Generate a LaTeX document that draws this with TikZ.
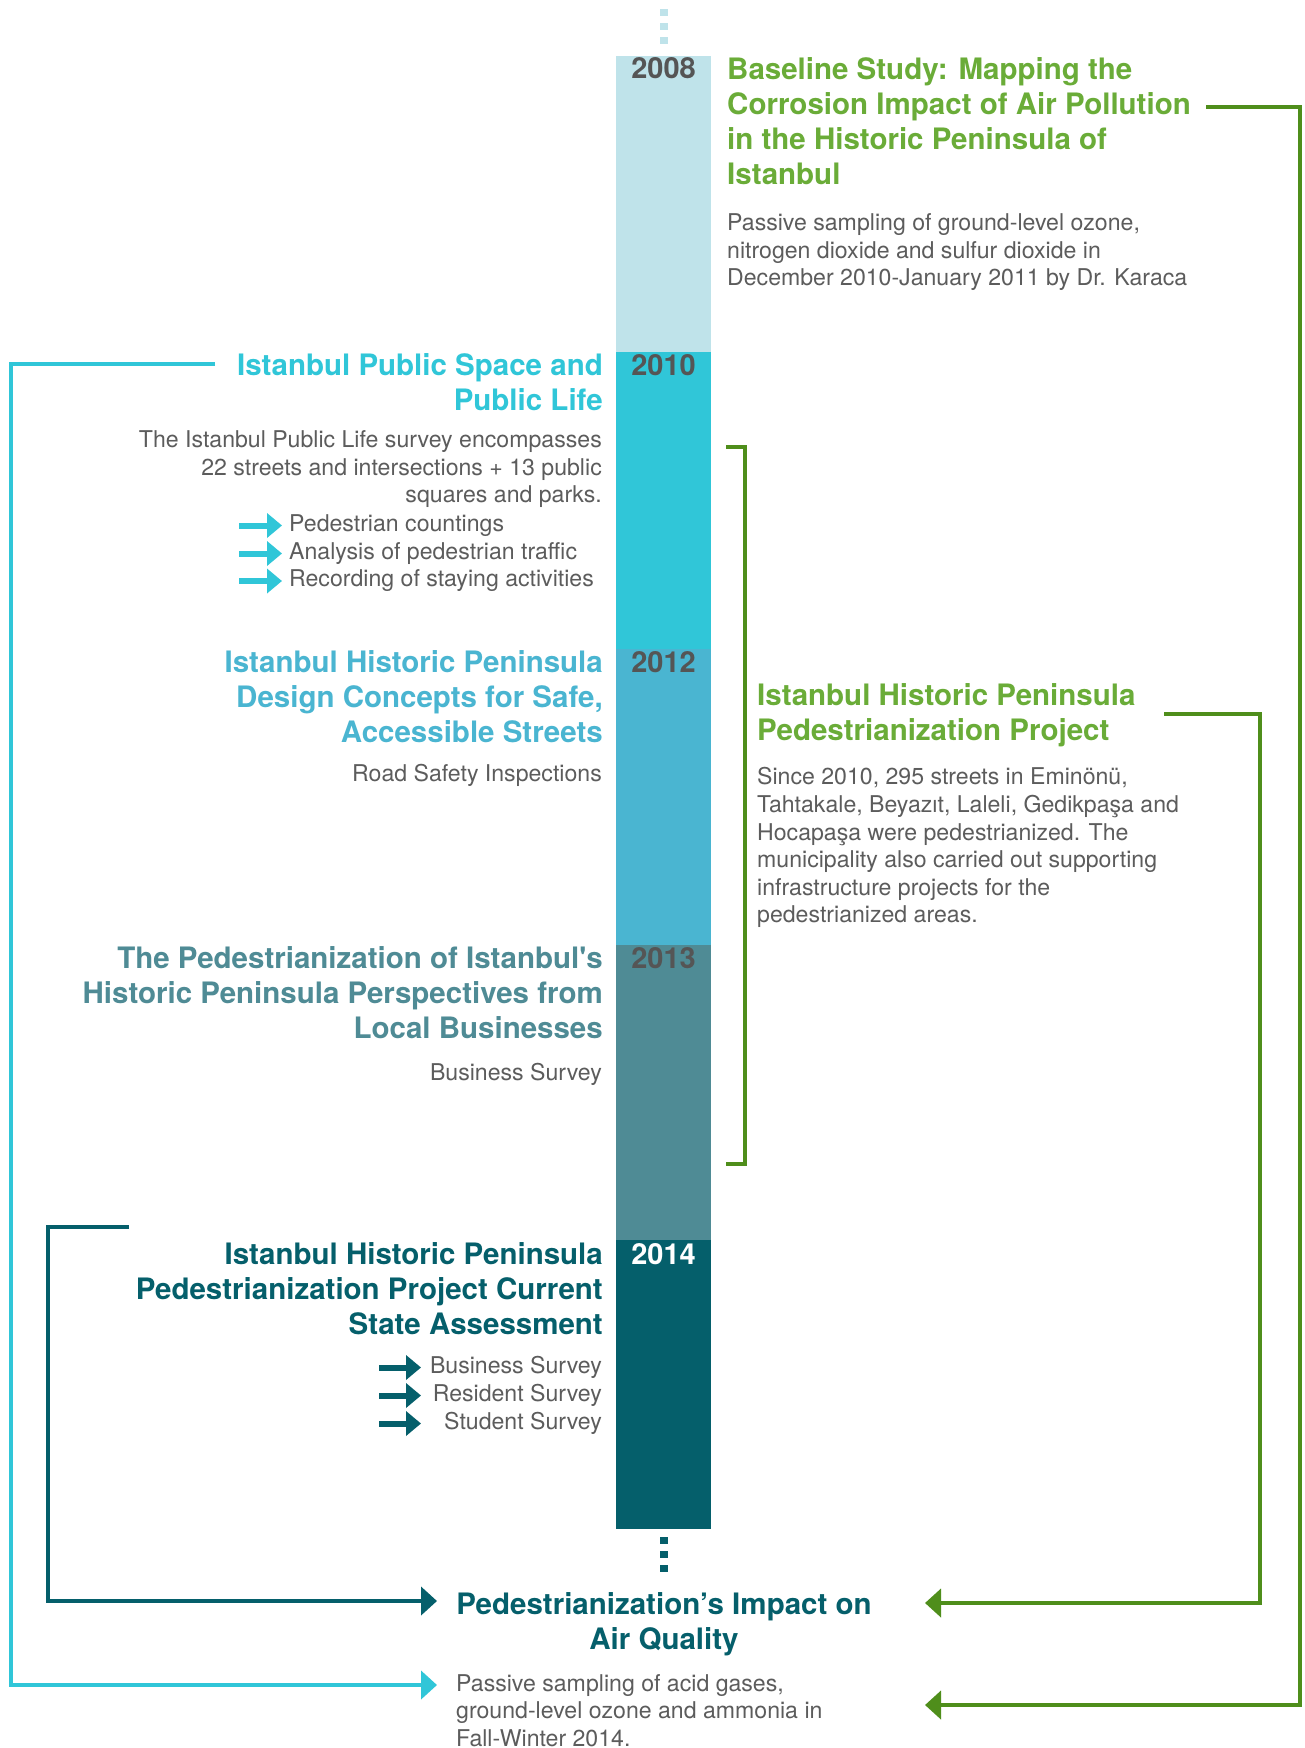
\documentclass[tikz,border=0pt]{standalone}
\usepackage{fontspec}
\setmainfont{TeX Gyre Heros}
\usetikzlibrary{arrows.meta}
\definecolor{cA}{HTML}{BFE3EA}
\definecolor{cB}{HTML}{30C6D8}
\definecolor{cC}{HTML}{4AB5D1}
\definecolor{cD}{HTML}{4F8B95}
\definecolor{cE}{HTML}{055F6B}
\definecolor{ygray}{HTML}{555555}
\definecolor{txtgray}{HTML}{5C5C5C}
\definecolor{gtext}{HTML}{6AAC38}
\definecolor{gline}{HTML}{4F8E1B}
\begin{document}
\begin{tikzpicture}[x=1pt,y=-1pt,
  title/.style={font=\fontsize{29.5}{35}\selectfont\bfseries, inner sep=0pt},
  desc/.style={font=\fontsize{23.1}{27.6}\selectfont, text=txtgray, inner sep=0pt},
  year/.style={font=\fontsize{29}{29}\selectfont\bfseries, inner sep=0pt, anchor=north},
  conn/.style={line width=4.5pt, -{Triangle[length=16pt,width=28pt]}},
  bularrow/.style={line width=6pt, -{Triangle[length=15pt,width=24pt]}},
  dots/.style={line width=8pt, dash pattern=on 7pt off 7pt}]
\useasboundingbox (0,0) rectangle (1304,1748);
\fill[white] (0,0) rectangle (1304,1748);
% timeline bar
\fill[cA] (616,56) rectangle (711,352);
\fill[cB] (616,352) rectangle (711,649);
\fill[cC] (616,649) rectangle (711,945);
\fill[cD] (616,945) rectangle (711,1240);
\fill[cE] (616,1240) rectangle (711,1529);
\coordinate (dotTopA) at (664,9);
\coordinate (dotTopB) at (664,45);
\draw[dots, cA] (dotTopA) -- (dotTopB);
\coordinate (dotBotA) at (664,1537);
\coordinate (dotBotB) at (664,1573);
\draw[dots, cE] (dotBotA) -- (dotBotB);
% years
\node[year, text=ygray] (y2008) at (663.5,57) {2008};
\node[year, text=ygray] (y2010) at (663.5,354) {2010};
\node[year, text=ygray] (y2012) at (663.5,651) {2012};
\node[year, text=ygray] (y2013) at (663.5,947) {2013};
\node[year, text=white] (y2014) at (663.5,1243) {2014};
% right column
\node[title, text=gtext, align=left, anchor=north west] (tBase) at (727,57)
  {Baseline Study: Mapping the\\Corrosion Impact of Air Pollution\\in the Historic Peninsula of\\Istanbul};
\node[desc, align=left, anchor=north west] (dBase) at (727,213.5)
  {Passive sampling of ground-level ozone,\\nitrogen dioxide and sulfur dioxide in\\December 2010-January 2011 by Dr. Karaca};
\node[title, text=gtext, align=left, anchor=north west] (tPed) at (757,683)
  {Istanbul Historic Peninsula\\Pedestrianization Project};
\node[desc, align=left, anchor=north west] (dPed) at (757,767.5)
  {Since 2010, 295 streets in Eminönü,\\Tahtakale, Beyazıt, Laleli, Gedikpaşa and\\Hocapaşa were pedestrianized. The\\municipality also carried out supporting\\infrastructure projects for the\\pedestrianized areas.};
% left column
\node[title, text=cB, align=right, anchor=north east] (t2010) at (603,353)
  {Istanbul Public Space and\\Public Life};
\node[desc, align=right, anchor=north east] (d2010) at (602,430.5)
  {The Istanbul Public Life survey encompasses\\22 streets and intersections + 13 public\\squares and parks.};
\node[desc, anchor=west] (b1) at (289,525.5) {Pedestrian countings};
\node[desc, anchor=west] (b2) at (289,553.5) {Analysis of pedestrian traffic};
\node[desc, anchor=west] (b3) at (289,581) {Recording of staying activities};
\foreach \b in {b1,b2,b3}
  \draw[bularrow, cB] ([xshift=-50pt]\b.west) -- ([xshift=-7pt]\b.west);
\node[title, text=cC, align=right, anchor=north east] (t2012) at (603,650)
  {Istanbul Historic Peninsula\\Design Concepts for Safe,\\Accessible Streets};
\node[desc, align=right, anchor=north east] (d2012) at (602,764.5) {Road Safety Inspections};
\node[title, text=cD, align=right, anchor=north east] (t2013) at (603,946)
  {The Pedestrianization of Istanbul\textquotesingle s\\Historic Peninsula Perspectives from\\Local Businesses};
\node[desc, align=right, anchor=north east] (d2013) at (602,1063.5) {Business Survey};
\node[title, text=cE, align=right, anchor=north east] (t2014) at (603,1242.5)
  {Istanbul Historic Peninsula\\Pedestrianization Project Current\\State Assessment};
\node[desc, anchor=east] (b4) at (602,1367.5) {Business Survey};
\node[desc, anchor=east] (b5) at (602,1395.5) {Resident Survey};
\node[desc, anchor=east] (b6) at (602,1423.5) {Student Survey};
\coordinate (axS) at (379,0);
\coordinate (axE) at (421,0);
\foreach \b in {b4,b5,b6}
  \draw[bularrow, cE] (\b.west -| axS) -- (\b.west -| axE);
% bottom
\node[title, text=cE, align=center, anchor=north] (tAir) at (664,1592)
  {Pedestrianization’s Impact on\\Air Quality};
\node[desc, align=left, anchor=north west] (dAir) at (456,1674)
  {Passive sampling of acid gases,\\ground-level ozone and ammonia in\\Fall-Winter 2014.};
% connectors
\coordinate (cyS) at (215,364);
\coordinate (cyC) at (11,1685);
\coordinate (cyE) at (437,1685);
\draw[conn, cB] (cyS) -| (cyC) -- (cyE);
\coordinate (dtS) at (129,1227);
\coordinate (dtC) at (48,1601);
\coordinate (dtE) at (437,1601);
\draw[conn, cE] (dtS) -| (dtC) -- (dtE);
\coordinate (g1S) at (1206,107);
\coordinate (g1C) at (1300,1705);
\coordinate (g1E) at (925,1705);
\draw[conn, gline] (g1S) -| (g1C) -- (g1E);
\coordinate (g2S) at (1164,714);
\coordinate (g2C) at (1260,1603);
\coordinate (g2E) at (925,1603);
\draw[conn, gline] (g2S) -| (g2C) -- (g2E);
\coordinate (brA) at (726,447);
\coordinate (brB) at (745,447);
\coordinate (brC) at (745,1164);
\coordinate (brD) at (726,1164);
\draw[line width=4pt, gline] (brA) -- (brB) -- (brC) -- (brD);
\end{tikzpicture}
\end{document}
